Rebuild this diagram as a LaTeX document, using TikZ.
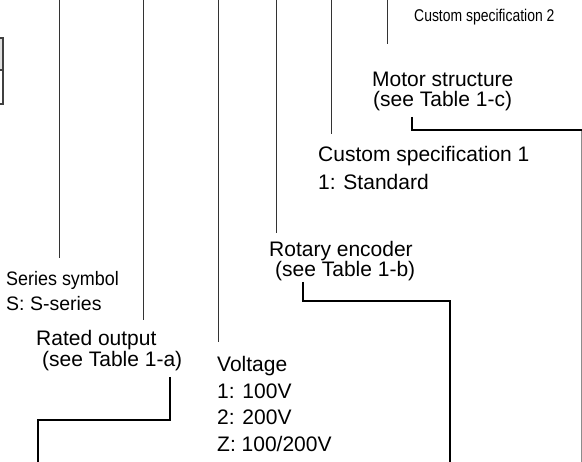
\documentclass[tikz,border=0pt]{standalone}
\usepackage{fontspec}
\setmainfont{Liberation Sans}
\newfontfamily\narrowfont[FakeStretch=0.82]{Liberation Sans}
\newfontfamily\semifont[FakeStretch=0.92]{Liberation Sans}
\begin{document}
\begin{tikzpicture}[x=1pt,y=-1pt,
  lbl/.style={anchor=base west, inner sep=0pt, font=\fontsize{21}{25}\selectfont},
  lblsm/.style={anchor=base west, inner sep=0pt, font=\fontsize{19.5}{23}\selectfont},
  semi/.style={anchor=base west, inner sep=0pt, font=\semifont\fontsize{19.5}{23}\selectfont},
  narrow/.style={anchor=base west, inner sep=0pt, font=\narrowfont\fontsize{17}{20}\selectfont},
  lead/.style={draw=black!80, line width=0.9pt},
  bracket/.style={draw=black, line width=2.4pt},
  rim/.style={draw=black!45, line width=0.9pt},
  boxpart/.style={draw=black!75, line width=1.3pt}]
\useasboundingbox (0,0) rectangle (582,462);

% partial table at the left edge
\filldraw[boxpart, fill=black!12] (-10,38) rectangle (3,70);
\draw[boxpart] (-10,70) rectangle (3,104);

% labels
\node[narrow] (cs2) at (414,22) {Custom specification 2};
\node[lbl] (ms1) at (372,87) {Motor structure};
\node[lbl] (ms2) at (373,107) {(see Table 1-c)};
\node[lbl] (c1a) at (318,162) {Custom specification 1};
\node[lbl] (c1b) at (318,190) {1: Standard};
\node[lbl] (re1) at (269,257) {Rotary encoder};
\node[lbl] (re2) at (275,277) {(see Table 1-b)};
\node[semi] (ss1) at (6,286) {Series symbol};
\node[lblsm] (ss2) at (6,311) {S: S-series};
\node[lbl] (ro1) at (36,346) {Rated output};
\node[lbl] (ro2) at (42,367) {(see Table 1-a)};
\node[lbl] (v0) at (217,372) {Voltage};
\node[lbl] (v1) at (217,398.5) {1: 100V};
\node[lbl] (v2) at (217,425) {2: 200V};
\node[lbl] (v3) at (217,451.5) {Z: 100/200V};

% leader lines from the code above
\coordinate (ssT) at (59,0);   \coordinate (ssE) at (59,258);
\coordinate (roT) at (143,0);  \coordinate (roE) at (143,320);
\coordinate (vT)  at (218,0);  \coordinate (vE)  at (218,342);
\coordinate (reT) at (276,0);  \coordinate (reE) at (276,233);
\coordinate (c1T) at (331,0);  \coordinate (c1E) at (331,134);
\coordinate (c2T) at (387,0);  \coordinate (c2E) at (387,44);
\draw[lead] (ssT) -- (ssE);
\draw[lead] (roT) -- (roE);
\draw[lead] (vT) -- (vE);
\draw[lead] (reT) -- (reE);
\draw[lead] (c1T) -- (c1E);
\draw[lead] (c2T) -- (c2E);

% brackets to the tables below
\coordinate (roB1) at (170,377); \coordinate (roB2) at (38,472);
\draw[bracket] (roB1) -- (170,420) -| (roB2);
\coordinate (reB1) at (303,282); \coordinate (reB2) at (450,472);
\draw[bracket] (reB1) -- (303,301) -| (reB2);
\coordinate (msB1) at (412,117); \coordinate (msB2) at (592,130);
\draw[bracket] (msB1) |- (msB2);
\coordinate (rimT) at (581,131); \coordinate (rimB) at (581,472);
\draw[rim] (rimT) -- (rimB);
\end{tikzpicture}
\end{document}
